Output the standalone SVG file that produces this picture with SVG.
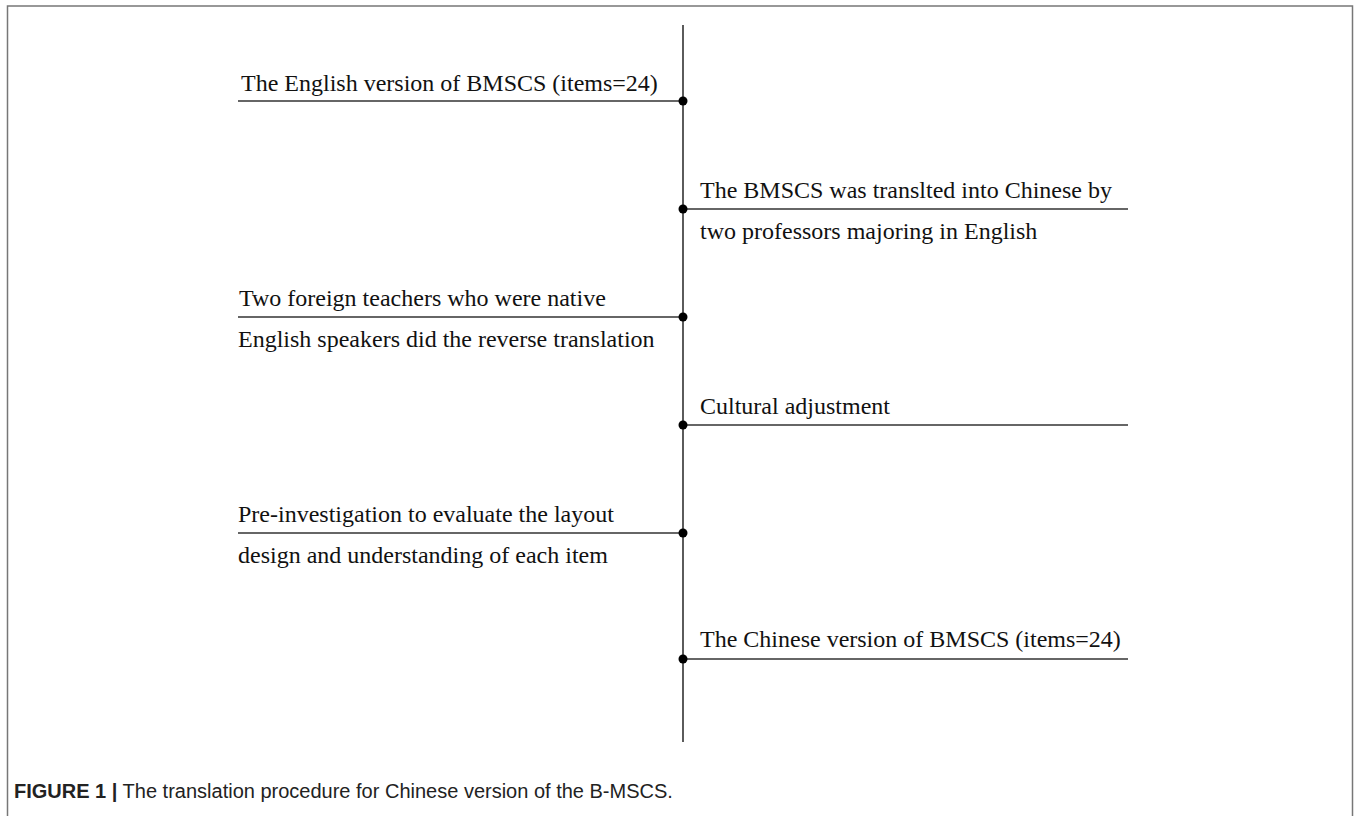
<svg xmlns="http://www.w3.org/2000/svg" width="1360" height="816" viewBox="0 0 1360 816">
<style>
.ln{stroke:#333;stroke-width:1.6;fill:none}
.dot{fill:#000}
.t{font-family:"Liberation Serif","Times New Roman",serif;font-size:24px;fill:#111}
.cap{font-family:"Liberation Sans",Arial,sans-serif;font-size:20px;fill:#222}
.frame{fill:none;stroke:#777;stroke-width:1.5}
</style>
<rect width="1360" height="816" fill="#fff"/>
<path class="frame" d="M7.5,830 V6 H1352.5 V830"/>
<g id="connectors">
<line class="ln" x1="683" y1="25" x2="683" y2="742"/>
</g>
<g id="n1"><line class="ln" x1="238" y1="101" x2="683" y2="101"/><circle class="dot" cx="683" cy="101" r="4.5"/><text class="t" x="241" y="91">The English version of BMSCS (items=24)</text></g>
<g id="n2"><line class="ln" x1="683" y1="209" x2="1128" y2="209"/><circle class="dot" cx="683" cy="209" r="4.5"/><text class="t" x="700" y="198">The BMSCS was translted into Chinese by</text><text class="t" x="700" y="239">two professors majoring in English</text></g>
<g id="n3"><line class="ln" x1="238" y1="317" x2="683" y2="317"/><circle class="dot" cx="683" cy="317" r="4.5"/><text class="t" x="239" y="306">Two foreign teachers who were native</text><text class="t" x="238" y="347">English speakers did the reverse translation</text></g>
<g id="n4"><line class="ln" x1="683" y1="425" x2="1128" y2="425"/><circle class="dot" cx="683" cy="425" r="4.5"/><text class="t" x="700" y="414">Cultural adjustment</text></g>
<g id="n5"><line class="ln" x1="238" y1="533" x2="683" y2="533"/><circle class="dot" cx="683" cy="533" r="4.5"/><text class="t" x="238" y="522">Pre-investigation to evaluate the layout</text><text class="t" x="238" y="563">design and understanding of each item</text></g>
<g id="n6"><line class="ln" x1="683" y1="659" x2="1128" y2="659"/><circle class="dot" cx="683" cy="659" r="4.5"/><text class="t" x="700" y="647">The Chinese version of BMSCS (items=24)</text></g>
<text class="cap" x="14" y="798"><tspan font-weight="bold">FIGURE 1 |</tspan> The translation procedure for Chinese version of the B-MSCS.</text>
</svg>
